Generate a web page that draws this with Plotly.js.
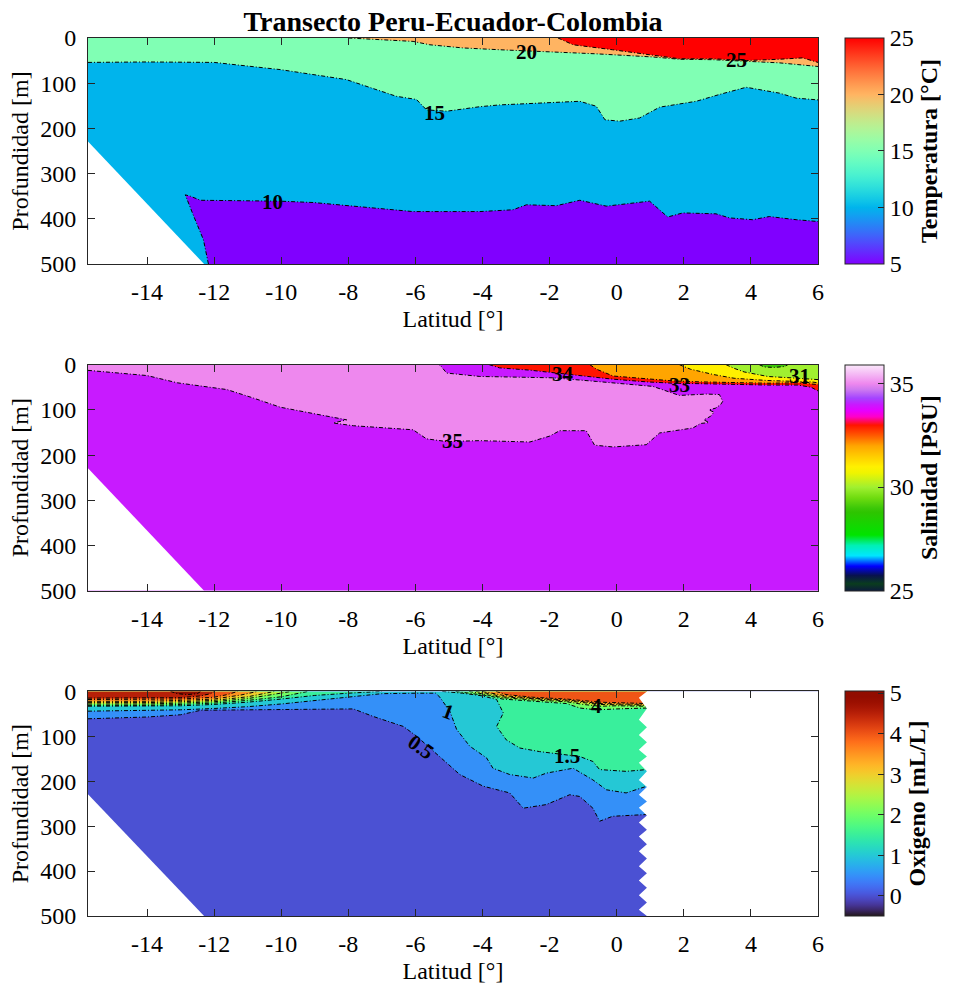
<!DOCTYPE html>
<html>
<head>
<meta charset="utf-8">
<script src="https://cdn.plot.ly/plotly-3.0.1.min.js"></script>
<style>
  html, body { margin: 0; padding: 0; background: #ffffff; }
  #chart { width: 953px; height: 984px; }
</style>
</head>
<body>
<div id="chart"></div>
<script>
// ---------- Section frame ----------
const latRange = [-15.76, 6];
const depthRange = [0, 500];
const xTicks = [-14, -12, -10, -8, -6, -4, -2, 0, 2, 4, 6];
const xTickText = ['-14', '-12', '-10', '-8', '-6', '-4', '-2', '0', '2', '4', '6'];
const yTicks = [0, 100, 200, 300, 400, 500];

// Sea floor on the continental slope (blank wedge, all three sections)
const bottomLat = [-15.76, -12.3];
const bottomDepth = [229, 500];

// ---------- Temperature (°C) ----------
const tempLevels = [5, 10, 15, 20, 25];
const t10Lat = [-12.17, -12.32, -12.61, -12.86, -12.71, -12.41, -10.03, -9.04, -6.07, -4.08, -3.09, -2.69, -1.8, -1.1, -0.31, 0.98, 1.52, 1.97, 2.96, 3.36, 4.05, 4.55, 5.35, 6];
const t10Depth = [500, 446, 394, 347, 350, 359, 361, 364, 384, 384, 380, 369, 371, 359, 372, 361, 396, 387, 389, 398, 402, 395, 402, 406];
const t15Lat = [-15.76, -14, -12, -10.02, -8.06, -6.57, -5.97, -5.67, -5.07, -4.08, -3.49, -1.1, -0.61, -0.35, 0.09, 0.68, 1.28, 2.37, 3.06, 3.86, 4.85, 5.35, 6];
const t15Depth = [54, 53, 54, 70, 92, 129, 136, 159, 162, 152, 148, 140, 151, 181, 184, 177, 153, 140, 125, 109, 122, 133, 137];
const t20Lat = [-8.0, -6.07, -5.57, -4.58, -3.49, -2.1, -0.61, 1.08, 1.87, 2.87, 3.86, 4.85, 6];
const t20Depth = [0, 7.5, 15, 22, 26, 30, 35, 42, 47, 48, 52, 55, 63];
const t25Lat = [-1.75, -1.3, -0.12, 1.28, 1.87, 2.87, 3.86, 4.85, 5.54, 6];
const t25Depth = [0, 15, 26, 41, 46, 46, 50, 47, 44, 54];
const tempLabelText = ['10', '15', '20', '25'];
const tempLabelLat = [-10.27, -5.42, -2.68, 3.57];
const tempLabelDepth = [362, 165, 30, 48];

// ---------- Salinity (PSU) ----------
const salLevels = [29, 30, 31, 32, 33, 34, 35];
const s35Lat = [-15.76, -14.0, -13.1, -11.62, -10.82, -10.03, -8.84, -8.05, -8.45, -7.85, -6.07, -5.67, -5.07, -4.08, -2.59, -2.0, -1.7, -0.91, -0.66, -0.11, 0.88, 1.28, 2.27, 2.5, 2.75, 2.6, 2.8, 2.9, 2.75, 2.95, 3.1, 3.16, 3.06, 2.67, 1.87, 1.08, -0.61, -1.9, -4.08, -5.07, -5.23, -5.3];
const s35Depth = [12.5, 24, 40, 55, 74, 94, 111, 122, 129, 135, 144, 164, 170, 168, 171, 158, 146, 146, 178, 182, 177, 151, 140, 130, 128, 122, 114, 105, 100, 96, 88, 81, 66, 65, 68, 48, 37, 29, 26, 18.5, 4, 0];
const s34Lat = [-3.8, -3.49, -2.6, -1.9, -1.0, -0.11, 0.9, 1.7, 2.5, 3.5, 4.5, 5.4, 5.8, 6];
const s34Depth = [0, 7, 12, 18, 25, 32, 38, 41, 42, 44, 45, 45, 50, 58];
const s33Lat = [-0.8, -0.6, -0.11, 0.9, 1.7, 2.5, 3.5, 4.5, 5.4, 5.8, 6];
const s33Depth = [0, 10, 25, 32, 36, 38, 40, 41, 40, 42, 44];
const s32Lat = [1.87, 2.2, 2.9, 3.5, 4.5, 5.4, 5.8, 6];
const s32Depth = [0, 10, 22, 30, 35, 36, 38, 40];
const s31Lat = [3.26, 3.5, 3.8, 4.5, 5.4, 6];
const s31Depth = [0, 8, 16, 26, 30, 33];
const s30Lat = [4.25, 4.4, 4.7, 5.0, 5.1];
const s30Depth = [0, 5, 6, 4, 0];
const salLabelText = ['35', '34', '33', '31'];
const salLabelLat = [-4.9, -1.6, 1.87, 5.45];
const salLabelDepth = [168, 20, 44, 24];

// ---------- Dissolved oxygen (mL/L) ----------
const oxyLevels = [0, 0.5, 1, 1.5, 2, 2.5, 3, 3.5, 4, 4.5, 5];
const o05Lat = [-15.76, -14, -13, -12.4, -11, -7.85, -7.25, -6.66, -6.36, -5.96, -5.27, -4.68, -3.98, -3.19, -2.79, -2.1, -1.4, -1.1, -0.71, -0.51, -0.12, 0.9];
const o05Depth = [61, 57, 52, 42, 41, 39, 56, 70, 78, 100, 145, 185, 211, 226, 260, 252, 230, 234, 260, 289, 278, 274];
const o1Lat = [-15.76, -14, -13, -12, -11, -10, -9, -8, -7.5, -7, -6, -5.4, -5.27, -4.97, -4.77, -4.38, -3.88, -3.69, -3.19, -2.49, -2.1, -1.3, -0.71, -0.31, 0.28, 0.9];
const o1Depth = [44, 43, 41, 38, 34, 28, 20, 12, 8, 5, 4, 4, 13, 45, 85, 122, 148, 171, 185, 193, 182, 171, 197, 219, 226, 211];
// levels 1.5 to 4: an offshore piece (W) and a near-equator piece (E)
const o15LatW = [-15.76, -14, -13, -12, -11, -10, -9, -8, -7.0];
const o15DepthW = [33, 33, 32, 29, 24, 17, 9, 4, 0];
const o15LatE = [-5.2, -4.6, -4.0, -3.58, -3.38, -3.58, -3.29, -2.89, -2.3, -1.1, -0.71, -0.51, 0.28, 0.9];
const o15DepthE = [0, 4, 10, 18, 48, 78, 108, 126, 134, 145, 156, 174, 178, 174];
const o2LatW = [-15.76, -14, -13, -12, -11, -10, -9.2];
const o2DepthW = [31, 31, 29, 26, 20, 12, 0];
const o2LatE = [-4.8, -4.2, -3.8, -3.4, -2.5, -1.5, -1.1, -0.6, 0, 0.9];
const o2DepthE = [0, 5, 10, 17, 22, 27, 37, 41, 39, 37];
const o25LatW = [-15.76, -14, -13, -12, -11, -10.2, -9.7];
const o25DepthW = [28, 28, 26, 23, 16, 7, 0];
const o25LatE = [-4.4, -3.9, -3.4, -2.5, -1.5, -1.0, -0.5, 0, 0.9];
const o25DepthE = [0, 7, 14, 19, 23, 29, 33, 32, 33];
const o3LatW = [-15.76, -14, -13, -12, -11, -10.2];
const o3DepthW = [25, 25, 23, 20, 12, 0];
const o3LatE = [-4.2, -3.8, -3.4, -2.5, -1.5, -0.5, 0.9];
const o3DepthE = [0, 5, 12, 17, 21, 29, 31];
const o35LatW = [-15.76, -14, -13, -12, -11.2, -10.7];
const o35DepthW = [22, 22, 20, 17, 8, 0];
const o35LatE = [-4.0, -3.6, -3.3, -2.5, -1.5, -0.5, 0.9];
const o35DepthE = [0, 5, 10, 15, 19, 27, 29];
const o4LatW = [-15.76, -14, -13, -12, -11.6, -11.3];
const o4DepthW = [18, 18, 17, 13, 7, 0];
const o4LatE = [-3.6, -3.3, -2.5, -1.5, -0.5, 0.9];
const o4DepthE = [0, 7, 13, 17, 24, 27];
const o45Lat = [-15.76, -14, -13, -12.4, -12.1, -12.0];
const o45Depth = [15, 15, 14, 10, 5, 0];
const o5Lat = [-13.3, -13.1, -12.8, -12.5, -12.4];
const o5Depth = [0, 5, 7, 5, 0];
// northern end of the oxygen section
const oxyEdgeDepth = [0, 14, 38, 63, 80, 97, 113, 130, 145, 159, 178, 197, 213, 230, 245, 259, 276, 292, 308, 323, 340, 356, 372, 389, 405, 421, 437, 454, 470, 486, 500];
const oxyEdgeLat = [0.9, 0.66, 0.9, 0.66, 0.9, 0.66, 0.9, 0.66, 0.9, 0.66, 0.9, 0.66, 0.9, 0.66, 0.9, 0.66, 0.9, 0.66, 0.9, 0.66, 0.9, 0.66, 0.9, 0.66, 0.9, 0.66, 0.9, 0.66, 0.9, 0.66, 0.9];
const oxyLabelText = ['0.5', '1', '1.5', '4'];
const oxyLabelLat = [-5.83, -5.0, -1.47, -0.6];
const oxyLabelDepth = [123, 45, 143, 32];
const oxyLabelAngle = [35, 20, 0, 0];

// ---------- Colour maps ----------
const clamp = v => Math.max(0, Math.min(1, v));
const rgb = (r, g, b) => `rgb(${Math.round(255 * clamp(r))},${Math.round(255 * clamp(g))},${Math.round(255 * clamp(b))})`;
function rainbow(t) {
  return rgb(Math.abs(2 * t - 0.5), Math.sin(Math.PI * t), Math.cos(Math.PI * t / 2));
}
function turbo(t) {
  const r = 0.13572138 + t * (4.61539260 + t * (-42.66032258 + t * (132.13108234 + t * (-152.94239396 + t * 59.28637943))));
  const g = 0.09140261 + t * (2.19418839 + t * (4.84296658 + t * (-14.18503333 + t * (4.27729857 + t * 2.82956604))));
  const b = 0.10667330 + t * (12.64194608 + t * (-60.58204836 + t * (110.36276771 + t * (-89.90310912 + t * 27.34824973))));
  return rgb(r, g, b);
}
function sampled(fn, n) {
  const out = [];
  for (let i = 0; i <= n; i++) out.push([i / n, fn(i / n)]);
  return out;
}
const salStops = [
  [25.0, '#0c1a3c'], [25.35, '#0a3c1e'], [25.75, '#08124e'], [26.2, '#0000ff'], [26.7, '#00e6ff'],
  [27.2, '#00f0b4'], [27.7, '#00e400'], [28.8, '#2ec400'], [29.0, '#3cc808'], [29.5, '#70dc10'],
  [30.0, '#a0f030'], [30.7, '#f0f400'], [31.0, '#fff000'], [31.5, '#ffcc00'], [32.0, '#ffa500'],
  [32.5, '#ff5a00'], [33.0, '#ff1400'], [33.4, '#ff00c8'], [33.7, '#e600ff'], [34.0, '#c81aff'],
  [34.3, '#a444ff'], [34.7, '#cc78f0'], [35.0, '#ee88ee'], [35.9, '#fbe8fb']
];
const tempC = [5, 25], salC = [25, 35.9], oxyC = [-0.5, 5.05];
const tempScale = sampled(rainbow, 40);
const oxyScale = sampled(turbo, 40);
const salScale = salStops.map(s => [(s[0] - salC[0]) / (salC[1] - salC[0]), s[1]]);
function salColor(v) {
  for (let i = 0; i < salStops.length - 1; i++) {
    if (v <= salStops[i + 1][0]) return salStops[i][1];
  }
  return salStops[salStops.length - 1][1];
}
const tempFill = v => rainbow((v - tempC[0]) / (tempC[1] - tempC[0]));
const oxyFill = v => turbo((v - oxyC[0]) / (oxyC[1] - oxyC[0]));
const salFill = v => salStops.find(s => s[0] === v) ? salStops.find(s => s[0] === v)[1] : salColor(v);

// ---------- Trace helpers ----------
const traces = [];
const annotations = [];
const serif = 'Liberation Serif, Times New Roman, serif';
function ax(p) { return p === 1 ? ['x', 'y'] : ['x' + p, 'y' + p]; }
function poly(p, xs, ys, color) {
  const [xa, ya] = ax(p);
  traces.push({ type: 'scatter', mode: 'lines', x: xs, y: ys, fill: 'toself', fillcolor: color,
    line: { width: 0, color: color }, hoverinfo: 'skip', showlegend: false, xaxis: xa, yaxis: ya });
}
function domain(p, color) {
  poly(p, [latRange[0], latRange[1], latRange[1], latRange[0]], [depthRange[0], depthRange[0], depthRange[1], depthRange[1]], color);
}
function above(p, lat, dep, color) {
  poly(p, [...lat, lat[lat.length - 1], lat[0]], [...dep, depthRange[0], depthRange[0]], color);
}
function below(p, lat, dep, color) {
  poly(p, [...lat, lat[lat.length - 1], lat[0]], [...dep, depthRange[1], depthRange[1]], color);
}
function iso(p, lat, dep) {
  const [xa, ya] = ax(p);
  traces.push({ type: 'scatter', mode: 'lines', x: lat, y: dep,
    line: { color: '#000000', width: 1, dash: '4px,2px,1px,2px' }, hoverinfo: 'skip', showlegend: false, xaxis: xa, yaxis: ya });
}
function seafloor(p) {
  poly(p, [...bottomLat, bottomLat[0]], [...bottomDepth, bottomDepth[bottomDepth.length - 1]], '#ffffff');
}
function labels(p, txt, lat, dep, ang) {
  const [xa, ya] = ax(p);
  txt.forEach((t, i) => annotations.push({ xref: xa, yref: ya, x: lat[i], y: dep[i], text: t, showarrow: false,
    textangle: ang ? ang[i] : 0, font: { family: serif, size: 21, weight: 'bold', color: '#000' } }));
}
function scaleBar(p, cmin, cmax, scale, title, tickvals, dom) {
  const [xa, ya] = ax(p);
  traces.push({ type: 'scatter', mode: 'markers', x: [latRange[0]], y: [depthRange[0]], xaxis: xa, yaxis: ya,
    hoverinfo: 'skip', showlegend: false,
    marker: { size: 0, opacity: 0, color: [cmin], cmin: cmin, cmax: cmax, colorscale: scale, showscale: true,
      colorbar: { x: 1.0351, xanchor: 'left', xpad: 0, ypad: 0, thickness: 39, thicknessmode: 'pixels',
        len: dom[1] - dom[0], lenmode: 'fraction', y: dom[0], yanchor: 'bottom',
        outlinewidth: 1, outlinecolor: '#262626', ticks: 'inside', ticklen: 6, tickcolor: '#262626',
        tickvals: tickvals, tickfont: { family: serif, size: 24, color: '#000' },
        title: { text: title, side: 'right', font: { family: serif, size: 24, weight: 'bold', color: '#000' } } } } });
}

// ---------- Panel domains ----------
const dom1 = [0.7426, 1.0], dom2 = [0.3705, 0.6279], dom3 = [0.0, 0.2558];

// Temperature section
domain(1, tempFill(10));
below(1, t10Lat, t10Depth, tempFill(5));
above(1, t15Lat, t15Depth, tempFill(15));
above(1, t20Lat, t20Depth, tempFill(20));
above(1, t25Lat, t25Depth, tempFill(25));
[[t10Lat, t10Depth], [t15Lat, t15Depth], [t20Lat, t20Depth], [t25Lat, t25Depth]].forEach(l => iso(1, l[0], l[1]));
seafloor(1);
labels(1, tempLabelText, tempLabelLat, tempLabelDepth);
scaleBar(1, tempC[0], tempC[1], tempScale, 'Temperatura [°C]', [5, 10, 15, 20, 25], dom1);

// Salinity section
domain(2, salFill(34));
above(2, s35Lat, s35Depth, salFill(35));
above(2, s34Lat, s34Depth, salFill(33));
above(2, s33Lat, s33Depth, salFill(32));
above(2, s32Lat, s32Depth, salFill(31));
above(2, s31Lat, s31Depth, salFill(30));
above(2, s30Lat, s30Depth, salFill(29));
[[s35Lat, s35Depth], [s34Lat, s34Depth], [s33Lat, s33Depth], [s32Lat, s32Depth], [s31Lat, s31Depth], [s30Lat, s30Depth]].forEach(l => iso(2, l[0], l[1]));
seafloor(2);
labels(2, salLabelText, salLabelLat, salLabelDepth);
scaleBar(2, salC[0], salC[1], salScale, 'Salinidad [PSU]', [25, 30, 35], dom2);

// Oxygen section
domain(3, oxyFill(0));
above(3, o05Lat, o05Depth, oxyFill(0.5));
above(3, o1Lat, o1Depth, oxyFill(1));
above(3, o15LatW, o15DepthW, oxyFill(1.5));
above(3, o15LatE, o15DepthE, oxyFill(1.5));
above(3, o2LatW, o2DepthW, oxyFill(2));
above(3, o2LatE, o2DepthE, oxyFill(2));
above(3, o25LatW, o25DepthW, oxyFill(2.5));
above(3, o25LatE, o25DepthE, oxyFill(2.5));
above(3, o3LatW, o3DepthW, oxyFill(3));
above(3, o3LatE, o3DepthE, oxyFill(3));
above(3, o35LatW, o35DepthW, oxyFill(3.5));
above(3, o35LatE, o35DepthE, oxyFill(3.5));
above(3, o4LatW, o4DepthW, oxyFill(4));
above(3, o4LatE, o4DepthE, oxyFill(4));
above(3, o45Lat, o45Depth, oxyFill(4.5));
above(3, o5Lat, o5Depth, oxyFill(5));
[[o05Lat, o05Depth], [o1Lat, o1Depth], [o15LatW, o15DepthW], [o15LatE, o15DepthE], [o2LatW, o2DepthW], [o2LatE, o2DepthE],
 [o25LatW, o25DepthW], [o25LatE, o25DepthE], [o3LatW, o3DepthW], [o3LatE, o3DepthE], [o35LatW, o35DepthW], [o35LatE, o35DepthE],
 [o4LatW, o4DepthW], [o4LatE, o4DepthE], [o45Lat, o45Depth], [o5Lat, o5Depth]].forEach(l => iso(3, l[0], l[1]));
seafloor(3);
poly(3, [...oxyEdgeLat, latRange[1], latRange[1]], [...oxyEdgeDepth, depthRange[1], depthRange[0]], '#ffffff');
labels(3, oxyLabelText, oxyLabelLat, oxyLabelDepth, oxyLabelAngle);
scaleBar(3, oxyC[0], oxyC[1], oxyScale, 'Oxígeno [mL/L]', [0, 1, 2, 3, 4, 5], dom3);

// ---------- Axes ----------
function xAxis(anchor) {
  return { anchor: anchor, domain: [0, 1], range: latRange, tickvals: xTicks, ticktext: xTickText, ticks: 'inside', ticklen: 7, tickwidth: 1,
    tickcolor: '#262626', showline: true, linecolor: '#262626', linewidth: 1, mirror: 'ticks', showgrid: false, zeroline: false,
    ticklabelstandoff: 6, tickfont: { family: serif, size: 24, color: '#000' },
    title: { text: 'Latitud [°]', standoff: 6, font: { family: serif, size: 24, color: '#000' } } };
}
function yAxis(anchor, dom) {
  return { anchor: anchor, domain: dom, range: [depthRange[1], depthRange[0]], tickvals: yTicks, ticks: 'inside', ticklen: 7, tickwidth: 1,
    tickcolor: '#262626', showline: true, linecolor: '#262626', linewidth: 1, mirror: 'ticks', showgrid: false, zeroline: false,
    ticklabelstandoff: 6, tickfont: { family: serif, size: 24, color: '#000' },
    title: { text: 'Profundidad [m]', standoff: 4, font: { family: serif, size: 24, color: '#000' } } };
}

const layout = {
  width: 953, height: 984,
  margin: { l: 88, r: 134, t: 38, b: 68 },
  paper_bgcolor: '#ffffff', plot_bgcolor: '#ffffff',
  font: { family: serif, size: 24, color: '#000' },
  showlegend: false,
  title: { text: 'Transecto Peru-Ecuador-Colombia', x: 0.5, xref: 'paper', xanchor: 'center',
    y: 1 - 21 / 984, yref: 'container', yanchor: 'middle', font: { family: serif, size: 28, weight: 'bold', color: '#000' } },
  xaxis: xAxis('y'), yaxis: yAxis('x', dom1),
  xaxis2: xAxis('y2'), yaxis2: yAxis('x2', dom2),
  xaxis3: xAxis('y3'), yaxis3: yAxis('x3', dom3),
  annotations: annotations
};

Plotly.newPlot('chart', traces, layout, { displayModeBar: false, staticPlot: true });
</script>
</body>
</html>
